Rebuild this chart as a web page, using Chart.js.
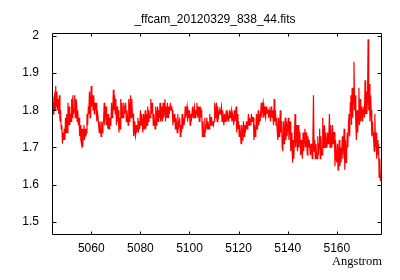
<!DOCTYPE html>
<html><head><meta charset="utf-8">
<script src="https://cdn.jsdelivr.net/npm/chart.js@4"></script>
<style>html,body{margin:0;padding:0;background:#fff}</style>
</head><body>
<canvas id="c" width="400" height="280" style="width:400px;height:280px;display:block"></canvas>
<script>
const chartTitle = "_ffcam_20120329_838_44.fits";
const xLabel = "Angstrom";
const xTicks = [5060, 5080, 5100, 5120, 5140, 5160];
const yTicks = [1.5, 1.6, 1.7, 1.8, 1.9, 2];
const waveStart = 5044;
const waveStep = 0.25;
const flux = [
1.80,1.82,1.79,1.83, 1.84,1.80,1.865,1.81, 1.85,1.80,1.83,1.79, 1.84,1.77,1.80,1.75, 1.76,1.71,1.74,1.72,
1.75,1.72,1.78,1.74, 1.79,1.74,1.82,1.76, 1.81,1.76,1.79,1.77, 1.83,1.78,1.84,1.79, 1.80,1.84,1.78,1.83,
1.82,1.77,1.80,1.76, 1.78,1.73,1.76,1.72, 1.71,1.75,1.70,1.73, 1.76,1.72,1.75,1.73, 1.74,1.79,1.76,1.80,
1.79,1.85,1.78,1.83, 1.865,1.81,1.84,1.80, 1.84,1.79,1.82,1.80, 1.82,1.77,1.80,1.78, 1.78,1.74,1.77,1.75,
1.73,1.77,1.74,1.76, 1.77,1.82,1.76,1.80, 1.81,1.76,1.79,1.75, 1.79,1.75,1.78,1.76, 1.77,1.82,1.78,1.80,
1.855,1.80,1.84,1.79, 1.83,1.76,1.81,1.77, 1.80,1.74,1.78,1.75, 1.83,1.78,1.82,1.79, 1.78,1.82,1.79,1.81,
1.82,1.77,1.80,1.78, 1.76,1.83,1.77,1.81, 1.84,1.78,1.83,1.79, 1.79,1.73,1.77,1.74, 1.73,1.76,1.74,1.75,
1.78,1.74,1.77,1.75, 1.80,1.76,1.79,1.77, 1.74,1.79,1.75,1.78, 1.80,1.75,1.79,1.76, 1.81,1.77,1.80,1.78,
1.78,1.83,1.79,1.82, 1.80,1.76,1.79,1.77, 1.75,1.81,1.76,1.79, 1.81,1.77,1.80,1.78, 1.82,1.77,1.81,1.78,
1.77,1.82,1.78,1.80, 1.83,1.77,1.81,1.78, 1.82,1.78,1.81,1.79, 1.79,1.82,1.80,1.81, 1.80,1.76,1.79,1.77,
1.79,1.75,1.78,1.76, 1.74,1.79,1.75,1.77, 1.78,1.73,1.76,1.74, 1.79,1.75,1.78,1.76, 1.77,1.81,1.78,1.80,
1.81,1.77,1.80,1.78, 1.80,1.76,1.79,1.77, 1.77,1.81,1.78,1.80, 1.81,1.78,1.80,1.79, 1.82,1.78,1.81,1.79,
1.77,1.81,1.78,1.80, 1.79,1.73,1.77,1.74, 1.73,1.78,1.74,1.76, 1.78,1.75,1.77,1.76, 1.75,1.79,1.76,1.78,
1.78,1.76,1.77,1.76, 1.77,1.82,1.78,1.80, 1.82,1.77,1.81,1.78, 1.78,1.80,1.79,1.80, 1.81,1.77,1.80,1.78,
1.76,1.79,1.77,1.78, 1.80,1.77,1.79,1.78, 1.77,1.80,1.78,1.79, 1.80,1.77,1.79,1.78, 1.76,1.80,1.77,1.79,
1.81,1.74,1.79,1.75, 1.77,1.73,1.76,1.74, 1.71,1.76,1.72,1.74, 1.77,1.73,1.76,1.74, 1.74,1.77,1.75,1.76,
1.79,1.76,1.78,1.77, 1.76,1.79,1.77,1.78, 1.78,1.72,1.76,1.73, 1.74,1.79,1.75,1.78, 1.80,1.76,1.79,1.77,
1.77,1.82,1.78,1.81, 1.82,1.78,1.81,1.79, 1.78,1.81,1.79,1.80, 1.80,1.78,1.80,1.79, 1.77,1.81,1.78,1.80,
1.78,1.76,1.83,1.77, 1.80,1.76,1.78,1.74, 1.72,1.78,1.73,1.76, 1.80,1.74,1.77,1.70, 1.69,1.77,1.71,1.75,
1.78,1.72,1.77,1.73, 1.73,1.78,1.72,1.76, 1.77,1.69,1.74,1.70, 1.66,1.72,1.67,1.73, 1.79,1.70,1.76,1.72,
1.69,1.76,1.70,1.74, 1.73,1.68,1.72,1.69, 1.67,1.74,1.69,1.72, 1.75,1.70,1.74,1.71, 1.68,1.73,1.70,1.72,
1.72,1.68,1.71,1.69, 1.67,1.72,1.84,1.69, 1.72,1.67,1.71,1.68, 1.67,1.73,1.68,1.71, 1.75,1.67,1.73,1.69,
1.68,1.78,1.70,1.75, 1.76,1.70,1.74,1.71, 1.70,1.74,1.71,1.73, 1.79,1.70,1.76,1.72, 1.70,1.76,1.71,1.74,
1.74,1.65,1.72,1.67, 1.66,1.71,1.64,1.69, 1.72,1.65,1.70,1.66, 1.66,1.73,1.67,1.71, 1.75,1.64,1.72,1.66,
1.68,1.74,1.70,1.76, 1.79,1.73,1.82,1.84, 1.76,1.86,1.78,1.83, 1.93,1.80,1.84,1.76, 1.72,1.80,1.74,1.78,
1.86,1.76,1.83,1.77, 1.78,1.81,1.77,1.80, 1.81,1.78,1.88,1.79, 1.85,1.79,1.83,1.99, 1.80,1.87,1.77,1.84,
1.80,1.73,1.77,1.74, 1.72,1.69,1.79,1.70, 1.74,1.67,1.72,1.68, 1.71,1.62,1.67,1.61, 1.63
];

const points = flux.map((v, i) => ({ x: waveStart + i * waveStep, y: v }));

const frame = {
  id: 'frame',
  afterDraw(chart) {
    const ctx = chart.ctx, a = chart.chartArea;
    const xs = chart.scales.x, ys = chart.scales.y;
    ctx.save();
    ctx.strokeStyle = '#000';
    ctx.lineWidth = 1;
    const L = Math.round(a.left) + 0.5, R = Math.round(a.right) + 0.5;
    const T = Math.round(a.top) + 0.5, B = Math.round(a.bottom) + 0.5;
    ctx.beginPath();
    ctx.rect(L, T, R - L, B - T);
    xTicks.forEach(v => {
      const px = Math.round(xs.getPixelForValue(v)) + 0.5;
      ctx.moveTo(px, B); ctx.lineTo(px, B - 3);
      ctx.moveTo(px, T); ctx.lineTo(px, T + 3);
    });
    yTicks.forEach(v => {
      const py = Math.round(ys.getPixelForValue(v)) + 0.5;
      ctx.moveTo(L, py); ctx.lineTo(L + 4, py);
      ctx.moveTo(R, py); ctx.lineTo(R - 4, py);
    });
    ctx.stroke();
    ctx.fillStyle = '#000';
    ctx.font = '12px "Liberation Sans", Arial, sans-serif';
    ctx.textAlign = 'center';
    ctx.textBaseline = 'middle';
    ctx.fillText(chartTitle, 215, 20);
    ctx.font = '12.5px "Liberation Serif", "Times New Roman", serif';
    ctx.textAlign = 'right';
    ctx.fillText(xLabel, 382, 262);
    ctx.restore();
  }
};

new Chart(document.getElementById('c'), {
  type: 'line',
  data: { datasets: [{ data: points, borderColor: '#ff0000', borderWidth: 1.2, pointRadius: 0, tension: 0, fill: false }] },
  options: {
    responsive: false,
    animation: false,
    devicePixelRatio: 1,
    layout: { padding: { left: 0, right: 19, top: 33, bottom: 0 } },
    plugins: { legend: { display: false }, title: { display: false }, tooltip: { enabled: false } },
    scales: {
      x: {
        type: 'linear', min: 5044, max: 5178,
        grid: { display: false, drawTicks: false }, border: { display: false },
        afterBuildTicks: s => { s.ticks = xTicks.map(v => ({ value: v })); },
        afterFit: s => { s.height = 46; },
        ticks: { color: '#000', padding: 7, maxRotation: 0, autoSkip: false,
                 font: { family: '"Liberation Sans", Arial, sans-serif', size: 12 },
                 callback: v => String(v) }
      },
      y: {
        min: 1.468, max: 2.007,
        grid: { display: false, drawTicks: false }, border: { display: false },
        afterBuildTicks: s => { s.ticks = yTicks.map(v => ({ value: v })); },
        afterFit: s => { s.width = 52; },
        ticks: { color: '#000', padding: 13, autoSkip: false,
                 font: { family: '"Liberation Sans", Arial, sans-serif', size: 12 },
                 callback: v => String(v) }
      }
    }
  },
  plugins: [frame]
});
</script>
</body></html>
